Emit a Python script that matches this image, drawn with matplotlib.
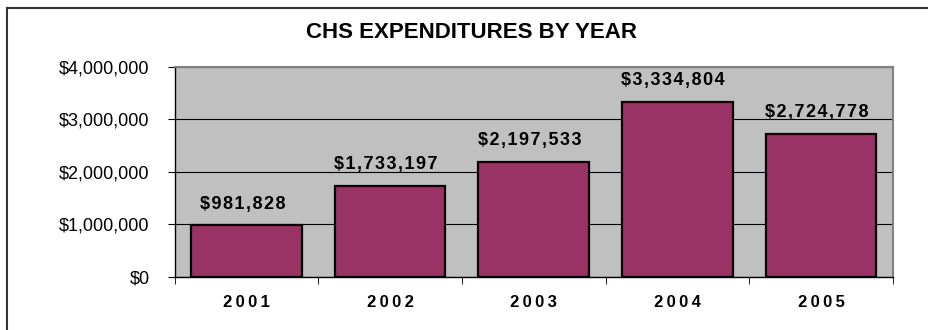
import matplotlib.pyplot as plt
from matplotlib.lines import Line2D
from matplotlib.ticker import FuncFormatter, MultipleLocator, FixedLocator

years = ['2001', '2002', '2003', '2004', '2005']
expenditures = [981828, 1733197, 2197533, 3334804, 2724778]

plt.rcParams['font.family'] = ['Liberation Sans', 'DejaVu Sans']


def spaced(s, gap='\u2009'):
    # spread characters apart for the wide bold labels
    return gap.join(s)


fig = plt.figure(figsize=(9.29, 3.30), dpi=100)
ax = fig.add_axes([0.188, 0.161, 0.773, 0.636])

ax.set_facecolor('#C0C0C0')
x = range(len(years))
bars = ax.bar(x, expenditures, width=0.77, color='#993366',
              edgecolor='black', linewidth=1.6, zorder=3)

ax.set_xlim(-0.5, len(years) - 0.5)
ax.set_ylim(0, 4000000)
ax.yaxis.set_major_locator(MultipleLocator(1000000))
ax.yaxis.set_major_formatter(FuncFormatter(lambda v, p: f'${v:,.0f}'))
ax.grid(axis='y', color='black', linewidth=0.8, zorder=1)

# year labels sit under the bars, tick marks go between categories
ax.set_xticks(list(x))
ax.set_xticklabels([spaced(y) for y in years], fontsize=12, fontweight='bold')
ax.xaxis.set_minor_locator(FixedLocator([i + 0.5 for i in range(-1, len(years))]))
ax.tick_params(axis='x', which='major', length=0, pad=13)
ax.tick_params(axis='x', which='minor', length=5, direction='out', color='black')
ax.tick_params(axis='y', length=5, direction='out', labelsize=13, pad=13)

for side in ['top', 'right']:
    ax.spines[side].set_color('#808080')
    ax.spines[side].set_linewidth(1.5)
for side in ['left', 'bottom']:
    ax.spines[side].set_color('black')
    ax.spines[side].set_linewidth(1.0)

for i, v in enumerate(expenditures):
    ax.annotate(spaced(f'${v:,}', '\u200a'), (i, v), xytext=(-3, 9),
                textcoords='offset points', ha='center', va='bottom',
                fontsize=13, fontweight='bold', zorder=4)

fig.text(0.508, 0.9, 'CHS EXPENDITURES BY YEAR', ha='center', va='center',
         fontsize=16, fontweight='bold')

# outer chart frame
fig.add_artist(Line2D([7 / 929, 1], [1 - 8 / 330, 1 - 8 / 330],
                      transform=fig.transFigure, color='#333333', linewidth=1.5))
fig.add_artist(Line2D([7 / 929, 7 / 929], [0, 1 - 8 / 330],
                      transform=fig.transFigure, color='#333333', linewidth=1.5))

fig.savefig('out.png', dpi=100)
